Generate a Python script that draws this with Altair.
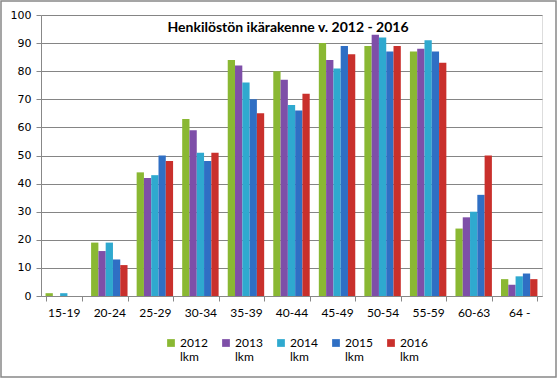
import altair as alt
import pandas as pd

categories = ["15-19", "20-24", "25-29", "30-34", "35-39", "40-44", "45-49", "50-54", "55-59", "60-63", "64 -"]
years = ["2012", "2013", "2014", "2015", "2016"]
v2012 = [1, 19, 44, 63, 84, 80, 90, 89, 87, 24, 6]
v2013 = [0, 16, 42, 59, 82, 77, 84, 93, 88, 28, 4]
v2014 = [1, 19, 43, 51, 76, 68, 81, 92, 91, 30, 7]
v2015 = [0, 13, 50, 48, 70, 66, 89, 87, 87, 36, 8]
v2016 = [0, 11, 48, 51, 65, 72, 86, 89, 83, 50, 6]
colors = ["#8AB833", "#7E4FA8", "#2FA9CF", "#2F6FC4", "#C9302C"]
title_text = "Henkilöstön ikärakenne v. 2012 - 2016"

rows = []
for y, vals in zip(years, [v2012, v2013, v2014, v2015, v2016]):
    for c, v in zip(categories, vals):
        rows.append({"ika": c, "vuosi": y, "arvo": v})
df = pd.DataFrame(rows)

bars = alt.Chart(df).mark_bar().encode(
    x=alt.X("ika:N", sort=categories, title=None,
            scale=alt.Scale(paddingInner=0.2, paddingOuter=0.1),
            axis=alt.Axis(labelAngle=0, tickBand="extent", labelFont="Lato",
                          labelFontSize=12, labelColor="#000", tickColor="#888",
                          domainColor="#888", tickSize=5, labelPadding=6, grid=False)),
    xOffset=alt.XOffset("vuosi:N", sort=years, scale=alt.Scale(paddingInner=0)),
    y=alt.Y("arvo:Q", title=None,
            scale=alt.Scale(domain=[0, 100]),
            axis=alt.Axis(values=list(range(0, 101, 10)), labelFont="DejaVu Sans",
                          labelFontSize=11, labelColor="#000", tickColor="#888",
                          domainColor="#888", tickSize=5, gridColor="#858585",
                          labelPadding=5)),
    color=alt.Color("vuosi:N", sort=years,
                    scale=alt.Scale(domain=years, range=colors),
                    legend=alt.Legend(title=None, orient="none", direction="horizontal",
                                      columns=5, legendX=124, legendY=322,
                                      symbolType="square", symbolSize=60,
                                      symbolStrokeWidth=0,
                                      labelFont="Lato", labelFontSize=12,
                                      labelColor="#000", labelOffset=3,
                                      columnPadding=12,
                                      labelExpr="[datum.label, 'lkm']")),
)

title = alt.Chart(pd.DataFrame({"t": [title_text]})).mark_text(
    font="Lato", fontSize=14, fontWeight="bold", color="#000",
    align="center", baseline="middle"
).encode(text="t:N", x=alt.value(247), y=alt.value(13))

border = alt.Chart(pd.DataFrame({"a": [0]})).mark_rect(
    fill=None, stroke="#888", strokeWidth=1.5, clip=False
).encode(x=alt.value(-40), x2=alt.value(515), y=alt.value(-14), y2=alt.value(362))

chart = alt.layer(bars, title, border).properties(
    width=501, height=281,
    padding={"left": 41, "top": 15, "right": 16, "bottom": 82},
    autosize=alt.AutoSizeParams(type="none"),
).configure_view(stroke=None).configure(background="white")

chart.save("out.html", embed_options={"renderer": "svg", "actions": False})
